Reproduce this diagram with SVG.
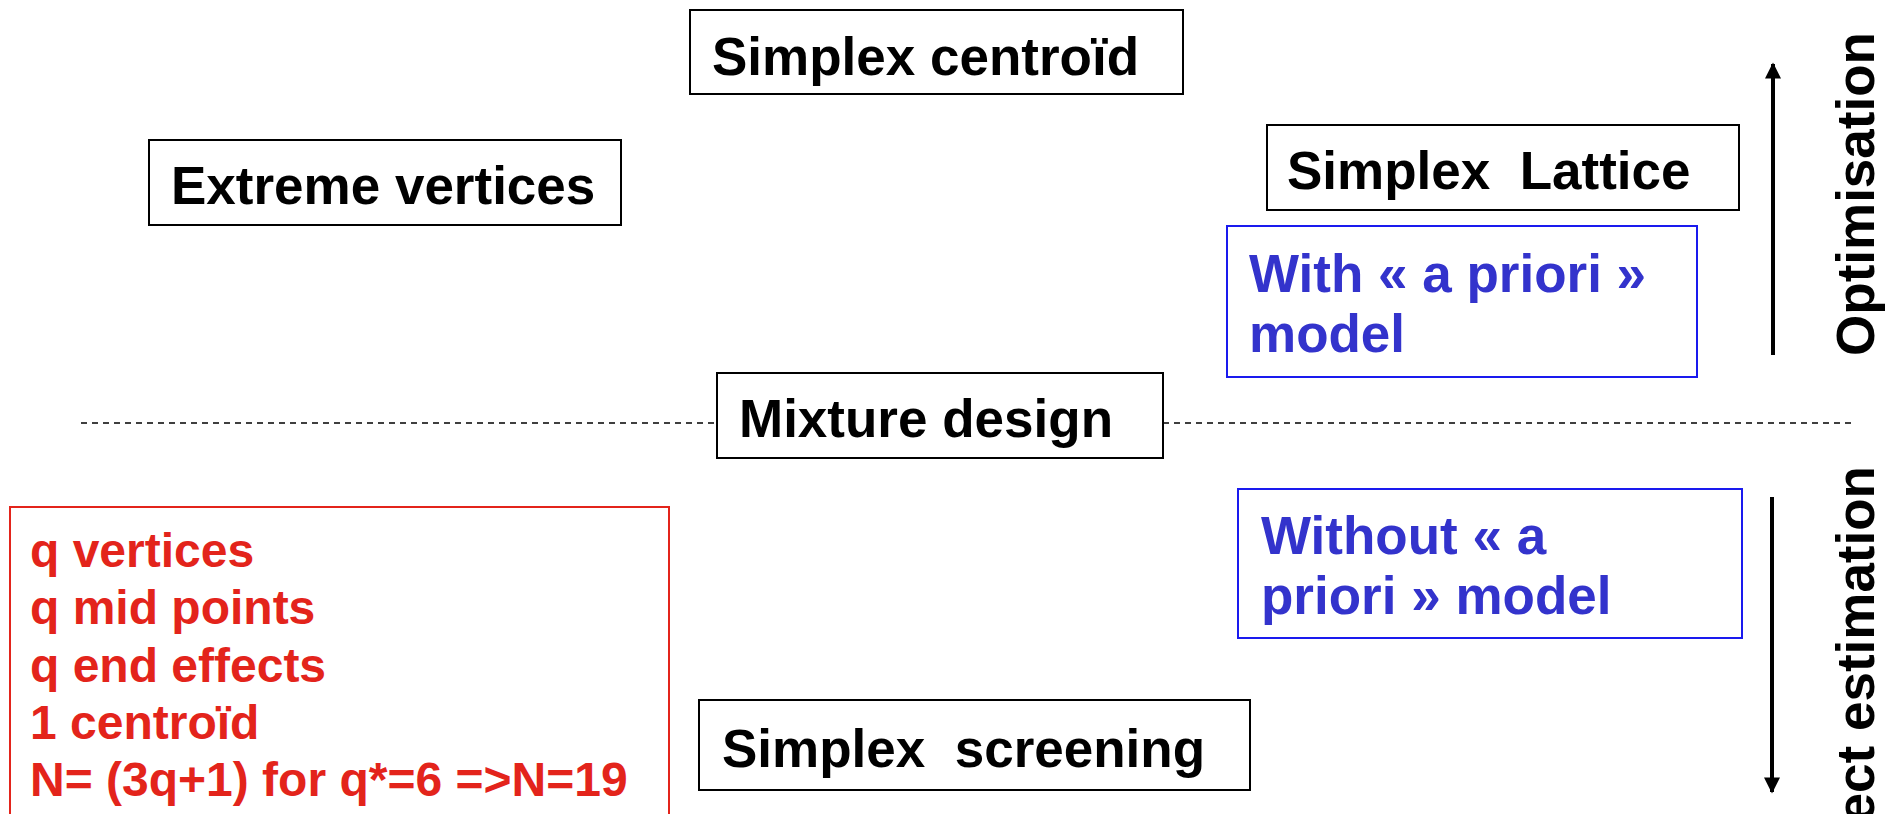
<svg xmlns="http://www.w3.org/2000/svg" width="1899" height="814" viewBox="0 0 1899 814">
<style>
text{font-family:"Liberation Sans",Arial,sans-serif;font-weight:bold;font-size:53px}
.box{fill:#fff;stroke:#000;stroke-width:2}
.bbox{fill:#fff;stroke:#1a1aee;stroke-width:2}
.rbox{fill:#fff;stroke:#e3241b;stroke-width:2}
.blk{fill:#000}
.blu{fill:#3333cc}
.red{fill:#e3241b;font-size:48px}
.dash{stroke:#000;stroke-width:1.5;stroke-dasharray:6 5;fill:none}
.arr{stroke:#000;stroke-width:4;fill:none}
</style>
<defs>
<marker id="ah" viewBox="0 0 10 10" refX="9" refY="5" markerWidth="4.5" markerHeight="4" orient="auto" markerUnits="strokeWidth">
<path d="M0,0 L10,5 L0,10 z" fill="#000"/>
</marker>
</defs>
<g id="connectors">
<line class="dash" x1="81" y1="423" x2="717" y2="423"/>
<line class="dash" x1="1163" y1="423" x2="1853" y2="423"/>
<line class="arr" x1="1773" y1="355" x2="1773" y2="64" marker-end="url(#ah)"/>
<line class="arr" x1="1772" y1="497" x2="1772" y2="792" marker-end="url(#ah)"/>
</g>
<g id="simplex-centroid">
<rect class="box" x="690" y="10" width="493" height="84"/>
<text class="blk" x="712" y="75">Simplex centroïd</text>
</g>
<g id="extreme-vertices">
<rect class="box" x="149" y="140" width="472" height="85"/>
<text class="blk" x="171" y="204">Extreme vertices</text>
</g>
<g id="simplex-lattice">
<rect class="box" x="1267" y="125" width="472" height="85"/>
<text class="blk" x="1287" y="189" xml:space="preserve">Simplex  Lattice</text>
</g>
<g id="with-model">
<rect class="bbox" x="1227" y="226" width="470" height="151"/>
<text class="blu" x="1249" y="292">With « a priori »</text>
<text class="blu" x="1249" y="352">model</text>
</g>
<g id="mixture-design">
<rect class="box" x="717" y="373" width="446" height="85"/>
<text class="blk" x="739" y="437">Mixture design</text>
</g>
<g id="without-model">
<rect class="bbox" x="1238" y="489" width="504" height="149"/>
<text class="blu" x="1261" y="554">Without « a</text>
<text class="blu" x="1261" y="614">priori » model</text>
</g>
<g id="simplex-screening">
<rect class="box" x="699" y="700" width="551" height="90"/>
<text class="blk" x="722" y="767" xml:space="preserve">Simplex  screening</text>
</g>
<g id="red-notes">
<rect class="rbox" x="10" y="507" width="659" height="320"/>
<text class="red" x="30" y="567">q vertices</text>
<text class="red" x="30" y="624">q mid points</text>
<text class="red" x="30" y="682">q end effects</text>
<text class="red" x="30" y="739">1 centroïd</text>
<text class="red" x="30" y="796">N= (3q+1) for q*=6 =&gt;N=19</text>
</g>
<g id="optimisation-label">
<text class="blk" transform="translate(1874,194) rotate(-90)" text-anchor="middle">Optimisation</text>
</g>
<g id="effect-label">
<text class="blk" transform="translate(1874,466) rotate(-90)" text-anchor="end">ect estimation</text>
</g>
</svg>
